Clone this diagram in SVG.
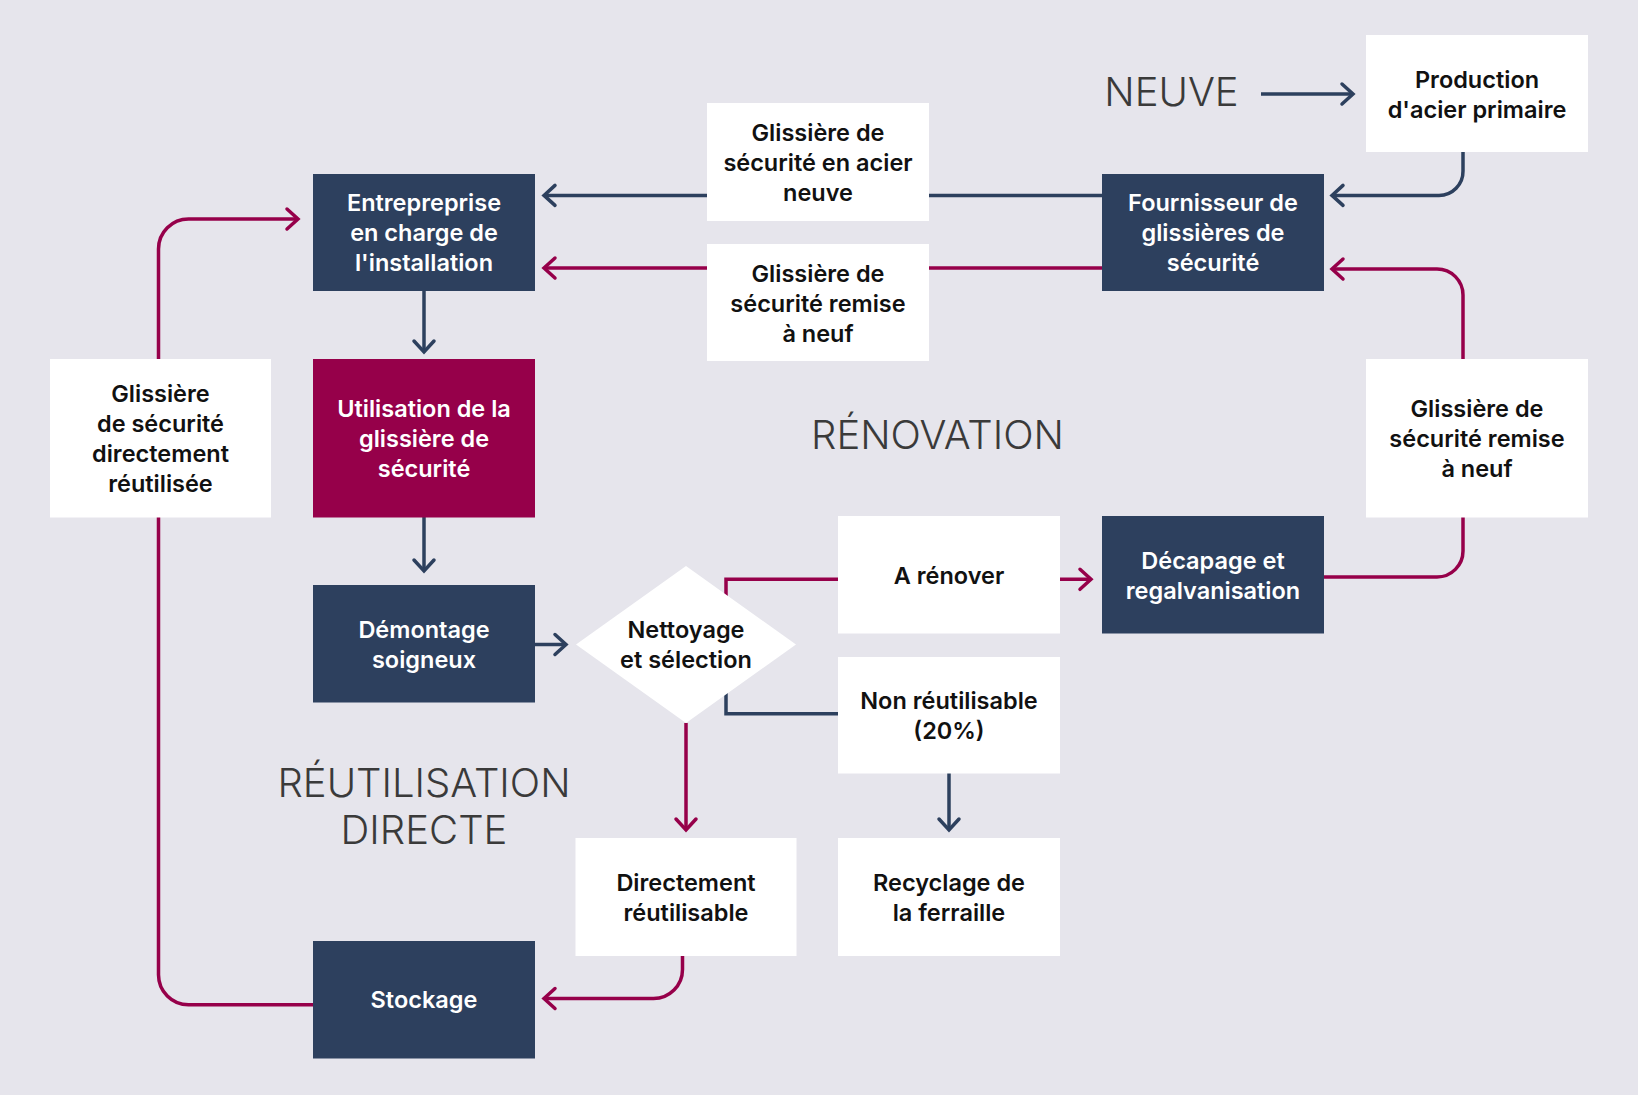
<svg xmlns="http://www.w3.org/2000/svg" width="1638" height="1095" viewBox="0 0 1638 1095">
<defs>
<style>
.bg{fill:#e6e5ec}
.dark{fill:#2d405e}
.mag{fill:#96004a}
.white{fill:#ffffff}
.tw{font-family:Inter,"Noto Sans",sans-serif;font-size:23.5px;font-weight:600;fill:#ffffff;text-anchor:middle}
.tb{font-family:Inter,"Noto Sans",sans-serif;font-size:23.5px;font-weight:600;fill:#111111;text-anchor:middle}
.title{font-family:Inter,"Noto Sans",sans-serif;font-size:40px;font-weight:300;fill:#3a3a3a;text-anchor:middle}
.cb{fill:none;stroke:#2d405e;stroke-width:3.5}
.cm{fill:none;stroke:#96004a;stroke-width:3.5}
</style>
<marker id="ab" markerUnits="userSpaceOnUse" viewBox="-14 -13 16 26" refX="0" refY="0" markerWidth="16" markerHeight="26" orient="auto" overflow="visible">
<path d="M-11,-10 L0,0 L-11,10" fill="none" stroke="#2d405e" stroke-width="3.5" stroke-linecap="round"/>
</marker>
<marker id="am" markerUnits="userSpaceOnUse" viewBox="-14 -13 16 26" refX="0" refY="0" markerWidth="16" markerHeight="26" orient="auto" overflow="visible">
<path d="M-11,-10 L0,0 L-11,10" fill="none" stroke="#96004a" stroke-width="3.5" stroke-linecap="round"/>
</marker>
</defs>
<rect class="bg" x="0" y="0" width="1638" height="1095"/>

<g id="titles">
<text class="title" x="1171.5" y="105.7">NEUVE</text>
<text class="title" x="937.5" y="449.3">RÉNOVATION</text>
<text class="title" x="424" y="797" font-size="39.5">RÉUTILISATION</text>
<text class="title" x="424" y="844" font-size="39.5">DIRECTE</text>
</g>

<g id="connectors">
<path class="cb" d="M1261,94 H1353" marker-end="url(#ab)"/>
<path class="cb" d="M1463,152 V171 A24,24 0 0 1 1439,195.4 H1332" marker-end="url(#ab)"/>
<path class="cb" d="M1102,195.4 H544" marker-end="url(#ab)"/>
<path class="cm" d="M1102,268 H544" marker-end="url(#am)"/>
<path class="cm" d="M1463,359 V295 A26,26 0 0 0 1437,269 H1332" marker-end="url(#am)"/>
<path class="cm" d="M1323,577 H1437 A26,26 0 0 0 1463,551 V517" />
<path class="cb" d="M424,291 V352" marker-end="url(#ab)"/>
<path class="cb" d="M424,517 V571" marker-end="url(#ab)"/>
<path class="cb" d="M535,644.5 H566" marker-end="url(#ab)"/>
<path class="cm" d="M726,610 V579.3 H1091" marker-end="url(#am)"/>
<path class="cb" d="M726,680 V713.7 H838"/>
<path class="cb" d="M949,773 V830" marker-end="url(#ab)"/>
<path class="cm" d="M686,723 V830" marker-end="url(#am)"/>
<path class="cm" d="M682.5,956 V969.5 A29,29 0 0 1 653.5,998.5 H544" marker-end="url(#am)"/>
<path class="cm" d="M313,1004.7 H188.5 A30,30 0 0 1 158.5,974.7 V249 A30,30 0 0 1 188.5,219 H298" marker-end="url(#am)"/>
</g>

<g id="node-production">
<rect class="white" x="1366" y="35" width="222" height="117"/>
<text class="tb" x="1477" y="87.5">Production</text>
<text class="tb" x="1477" y="117.5">d'acier primaire</text>
</g>
<g id="node-entreprise">
<rect class="dark" x="313" y="174" width="222" height="117"/>
<text class="tw" x="424" y="211">Entrepreprise</text>
<text class="tw" x="424" y="241">en charge de</text>
<text class="tw" x="424" y="271">l'installation</text>
</g>
<g id="node-fournisseur">
<rect class="dark" x="1102" y="174" width="222" height="117"/>
<text class="tw" x="1213" y="211">Fournisseur de</text>
<text class="tw" x="1213" y="241">glissières de</text>
<text class="tw" x="1213" y="271">sécurité</text>
</g>
<g id="node-glissiere-neuve">
<rect class="white" x="707" y="103" width="222" height="118"/>
<text class="tb" x="818" y="141">Glissière de</text>
<text class="tb" x="818" y="171">sécurité en acier</text>
<text class="tb" x="818" y="201">neuve</text>
</g>
<g id="node-glissiere-remise-haut">
<rect class="white" x="707" y="244" width="222" height="117"/>
<text class="tb" x="818" y="281.5">Glissière de</text>
<text class="tb" x="818" y="311.5">sécurité remise</text>
<text class="tb" x="818" y="341.5">à neuf</text>
</g>
<g id="node-utilisation">
<rect class="mag" x="313" y="359" width="222" height="158.5"/>
<text class="tw" x="424" y="416.5">Utilisation de la</text>
<text class="tw" x="424" y="446.5">glissière de</text>
<text class="tw" x="424" y="476.5">sécurité</text>
</g>
<g id="node-reutilisee">
<rect class="white" x="50" y="359" width="221" height="158.5"/>
<text class="tb" x="160.5" y="401.5">Glissière</text>
<text class="tb" x="160.5" y="431.5">de sécurité</text>
<text class="tb" x="160.5" y="461.5">directement</text>
<text class="tb" x="160.5" y="491.5">réutilisée</text>
</g>
<g id="node-glissiere-remise-droite">
<rect class="white" x="1366" y="359" width="222" height="158.5"/>
<text class="tb" x="1477" y="416.5">Glissière de</text>
<text class="tb" x="1477" y="446.5">sécurité remise</text>
<text class="tb" x="1477" y="476.5">à neuf</text>
</g>
<g id="node-a-renover">
<rect class="white" x="838" y="516" width="222" height="117.5"/>
<text class="tb" x="949" y="583.5">A rénover</text>
</g>
<g id="node-decapage">
<rect class="dark" x="1102" y="516" width="222" height="117.5"/>
<text class="tw" x="1213" y="569">Décapage et</text>
<text class="tw" x="1213" y="599">regalvanisation</text>
</g>
<g id="node-demontage">
<rect class="dark" x="313" y="585" width="222" height="117.5"/>
<text class="tw" x="424" y="637.5">Démontage</text>
<text class="tw" x="424" y="667.5">soigneux</text>
</g>
<g id="node-nettoyage">
<polygon class="white" points="686,566 796,644.5 686,723 576,644.5"/>
<text class="tb" x="686" y="638">Nettoyage</text>
<text class="tb" x="686" y="668">et sélection</text>
</g>
<g id="node-non-reutilisable">
<rect class="white" x="838" y="657" width="222" height="116.5"/>
<text class="tb" x="949" y="709">Non réutilisable</text>
<text class="tb" x="949" y="739">(20%)</text>
</g>
<g id="node-recyclage">
<rect class="white" x="838" y="838" width="222" height="118"/>
<text class="tb" x="949" y="890.5">Recyclage de</text>
<text class="tb" x="949" y="920.5">la ferraille</text>
</g>
<g id="node-directement">
<rect class="white" x="575.5" y="838" width="221" height="118"/>
<text class="tb" x="686" y="890.5">Directement</text>
<text class="tb" x="686" y="920.5">réutilisable</text>
</g>
<g id="node-stockage">
<rect class="dark" x="313" y="941" width="222" height="117.5"/>
<text class="tw" x="424" y="1008">Stockage</text>
</g>
</svg>
